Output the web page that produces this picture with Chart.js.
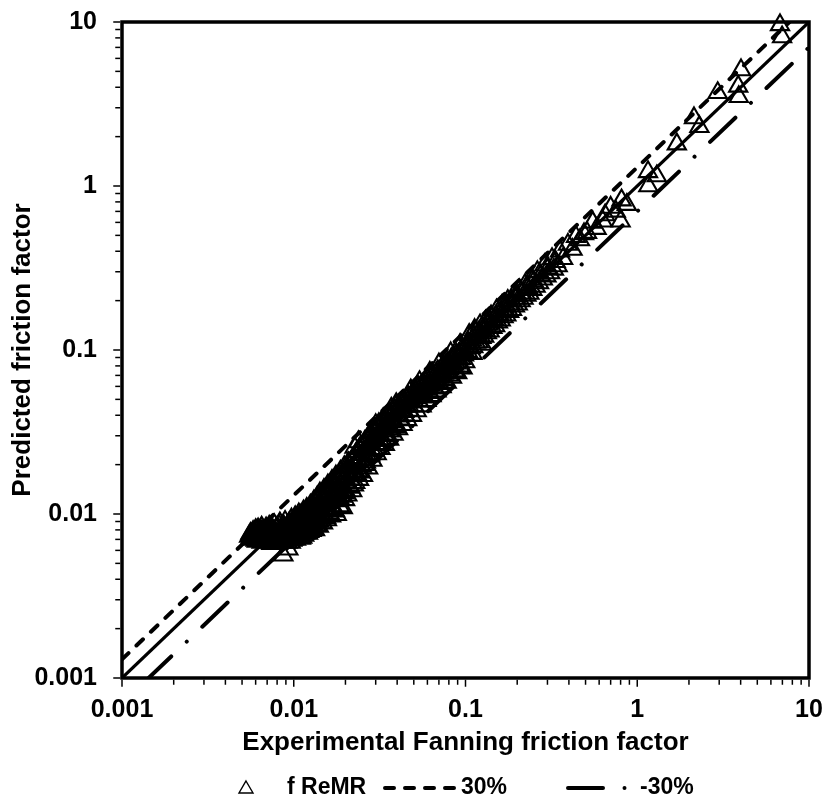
<!DOCTYPE html>
<html>
<head>
<meta charset="utf-8">
<style>
  html, body { margin: 0; padding: 0; background: #ffffff; }
  #wrap { width: 826px; height: 798px; position: relative; }
</style>
<script src="https://cdn.jsdelivr.net/npm/chart.js@4.4.1/dist/chart.umd.min.js"></script>
</head>
<body>
<div id="wrap"><canvas id="chart"></canvas></div>
<script>
// Decade tick labels shared by both logarithmic axes
const axisTicks = [0.001, 0.01, 0.1, 1, 10];

// Reference lines: parity and +/-30 % bands
const refX = [0.001, 10];
const parityY = [0.001, 10];
const plus30Y = [0.0013, 13];
const minus30Y = [0.0007, 7];

// Experimental vs predicted Fanning friction factor (f ReMR correlation)
const fReMR = [
  [0.0055,0.0073],[0.0056,0.0076],[0.0056,0.0071],[0.0057,0.0074],[0.0058,0.0078],[0.0058,0.0070],[0.0059,0.0072],
  [0.0059,0.0076],[0.0060,0.0069],[0.0060,0.0080],[0.0061,0.0073],[0.0061,0.0071],[0.0062,0.0077],
  [0.0061,0.0068],[0.0062,0.0074],[0.0062,0.0081],[0.0063,0.0070],[0.0064,0.0077],[0.0065,0.0067],[0.0065,0.0083],
  [0.0066,0.0072],[0.0067,0.0079],[0.0068,0.0069],[0.0068,0.0075],[0.0069,0.0082],[0.0070,0.0067],[0.0070,0.0073],
  [0.0071,0.0078],[0.0072,0.0084],[0.0073,0.0070],[0.0074,0.0066],[0.0074,0.0076],[0.0075,0.0081],[0.0076,0.0072],
  [0.0077,0.0086],[0.0078,0.0068],[0.0078,0.0078],[0.0079,0.0074],[0.0080,0.0083],[0.0080,0.0070],
  [0.0081,0.0066],[0.0082,0.0076],[0.0083,0.0088],[0.0084,0.0072],[0.0085,0.0080],[0.0086,0.0068],[0.0087,0.0085],
  [0.0088,0.0074],[0.0087,0.0056],[0.0089,0.0090],[0.0090,0.0070],[0.0090,0.0078],
  [0.0091,0.0083],[0.0092,0.0067],[0.0093,0.0075],[0.0094,0.0088],[0.0093,0.0061],[0.0095,0.0071],[0.0096,0.0080],
  [0.0097,0.0093],[0.0098,0.0069],[0.0099,0.0076],[0.0100,0.0085],[0.0100,0.0072],
  [0.0057,0.0075],[0.0058,0.0072],[0.0060,0.0075],[0.0061,0.0079],[0.0062,0.0069],[0.0063,0.0076],[0.0064,0.0080],
  [0.0064,0.0071],[0.0066,0.0068],[0.0066,0.0078],[0.0067,0.0074],[0.0069,0.0071],[0.0070,0.0079],[0.0071,0.0068],
  [0.0072,0.0075],[0.0073,0.0080],[0.0075,0.0068],[0.0076,0.0077],[0.0077,0.0072],[0.0079,0.0081],[0.0080,0.0067],
  [0.0081,0.0073],[0.0082,0.0085],[0.0083,0.0069],[0.0084,0.0078],[0.0086,0.0075],[0.0087,0.0071],[0.0088,0.0082],
  [0.0089,0.0067],[0.0091,0.0073],[0.0092,0.0079],[0.0094,0.0070],[0.0095,0.0084],[0.0096,0.0067],[0.0097,0.0077],
  [0.0098,0.0089],[0.0099,0.0070],[0.0100,0.0080],[0.0101,0.0075],[0.0101,0.0091],
  [0.0102,0.0096],[0.0103,0.0070],[0.0104,0.0079],[0.0105,0.0088],[0.0106,0.0074],[0.0107,0.0100],[0.0108,0.0083],
  [0.0110,0.0071],[0.0110,0.0092],[0.0112,0.0077],[0.0113,0.0087],[0.0114,0.0104],[0.0115,0.0074],[0.0116,0.0082],
  [0.0117,0.0095],[0.0118,0.0079],[0.0119,0.0108],[0.0120,0.0088],
  [0.0121,0.0076],[0.0122,0.0099],[0.0124,0.0083],[0.0125,0.0113],[0.0126,0.0092],[0.0127,0.0079],[0.0128,0.0104],
  [0.0130,0.0087],[0.0131,0.0120],[0.0132,0.0095],[0.0133,0.0080],[0.0135,0.0110],[0.0136,0.0090],[0.0137,0.0127],
  [0.0138,0.0100],[0.0140,0.0084],[0.0140,0.0116],
  [0.0103,0.0085],[0.0105,0.0072],[0.0106,0.0094],[0.0108,0.0077],[0.0109,0.0098],[0.0111,0.0082],[0.0112,0.0072],
  [0.0114,0.0090],[0.0116,0.0076],[0.0118,0.0100],[0.0119,0.0084],[0.0121,0.0093],[0.0123,0.0078],[0.0124,0.0106],
  [0.0126,0.0086],[0.0128,0.0097],[0.0129,0.0082],[0.0131,0.0109],[0.0133,0.0091],[0.0134,0.0118],[0.0136,0.0085],
  [0.0138,0.0104],[0.0139,0.0123],[0.0141,0.0090],[0.0143,0.0113],[0.0146,0.0097],[0.0149,0.0128],[0.0152,0.0108],
  [0.0154,0.0095],[0.0157,0.0136],[0.0159,0.0117],[0.0161,0.0101],[0.0163,0.0146],[0.0166,0.0125],[0.0169,0.0106],
  [0.0171,0.0155],[0.0175,0.0132],[0.0180,0.0162],[0.0184,0.0125],[0.0188,0.0150],[0.0192,0.0175],[0.0196,0.0135],
  [0.0142,0.0134],[0.0144,0.0094],[0.0145,0.0106],[0.0147,0.0122],[0.0148,0.0088],[0.0150,0.0141],[0.0151,0.0099],
  [0.0153,0.0113],[0.0155,0.0129],[0.0156,0.0092],[0.0158,0.0150],[0.0160,0.0105],[0.0162,0.0120],[0.0164,0.0137],
  [0.0165,0.0097],[0.0167,0.0160],[0.0168,0.0112],[0.0170,0.0128],
  [0.0172,0.0146],[0.0174,0.0104],[0.0176,0.0170],[0.0178,0.0099],[0.0179,0.0120],[0.0181,0.0137],[0.0183,0.0156],
  [0.0185,0.0112],[0.0187,0.0182],[0.0189,0.0128],[0.0191,0.0145],[0.0193,0.0109],[0.0195,0.0166],[0.0197,0.0194],
  [0.0199,0.0122],[0.0199,0.0140],[0.0200,0.0155],
  [0.0203,0.0178],[0.0205,0.0130],[0.0208,0.0205],[0.0211,0.0148],[0.0214,0.0163],[0.0216,0.0190],[0.0219,0.0138],
  [0.0222,0.0220],[0.0225,0.0172],[0.0226,0.0255],[0.0228,0.0155],[0.0231,0.0200],[0.0234,0.0240],[0.0237,0.0183],
  [0.0238,0.0275],[0.0240,0.0162],[0.0243,0.0215],[0.0246,0.0258],[0.0249,0.0195],[0.0253,0.0171],
  [0.0202,0.0160],[0.0206,0.0190],[0.0210,0.0170],[0.0213,0.0145],[0.0217,0.0210],[0.0221,0.0180],[0.0224,0.0150],
  [0.0229,0.0230],[0.0233,0.0175],[0.0236,0.0210],[0.0241,0.0250],[0.0245,0.0180],[0.0250,0.0230],[0.0255,0.0265],
  [0.0258,0.0200],[0.0262,0.0245],[0.0266,0.0285],[0.0270,0.0225],[0.0276,0.0265],[0.0281,0.0310],[0.0285,0.0245],
  [0.0290,0.0280],[0.0296,0.0330],[0.0302,0.0265],[0.0307,0.0300],[0.0313,0.0355],[0.0319,0.0280],[0.0326,0.0330],
  [0.0332,0.0380],[0.0340,0.0300],[0.0347,0.0350],[0.0356,0.0400],[0.0363,0.0320],[0.0372,0.0365],[0.0380,0.0420],
  [0.0390,0.0340],[0.0402,0.0430],[0.0414,0.0395],[0.0426,0.0470],[0.0440,0.0420],[0.0455,0.0500],[0.0470,0.0455],
  [0.0485,0.0530],[0.0500,0.0490],
  [0.0256,0.0232],[0.0259,0.0276],[0.0263,0.0207],[0.0267,0.0250],[0.0271,0.0190],[0.0275,0.0296],[0.0279,0.0228],
  [0.0283,0.0268],[0.0287,0.0212],[0.0291,0.0318],[0.0295,0.0245],[0.0299,0.0287],[0.0300,0.0350],[0.0304,0.0232],
  [0.0308,0.0340],[0.0312,0.0268],[0.0317,0.0305],[0.0320,0.0250],
  [0.0325,0.0362],[0.0329,0.0285],[0.0334,0.0328],[0.0339,0.0265],[0.0344,0.0385],[0.0349,0.0305],[0.0354,0.0350],
  [0.0359,0.0285],[0.0364,0.0410],[0.0369,0.0330],[0.0370,0.0440],[0.0375,0.0375],[0.0381,0.0305],[0.0387,0.0435],
  [0.0393,0.0352],[0.0395,0.0470],[0.0399,0.0400],[0.0405,0.0330],[0.0411,0.0460],[0.0417,0.0378],
  [0.0423,0.0425],[0.0430,0.0350],[0.0437,0.0488],[0.0444,0.0400],[0.0451,0.0452],[0.0458,0.0375],[0.0465,0.0518],
  [0.0472,0.0428],[0.0480,0.0480],[0.0480,0.0570],[0.0488,0.0398],[0.0496,0.0550],[0.0504,0.0455],[0.0512,0.0510],
  [0.0520,0.0425],[0.0528,0.0585],[0.0537,0.0485],[0.0540,0.0640],[0.0546,0.0540],[0.0555,0.0455],
  [0.0564,0.0620],[0.0573,0.0515],[0.0583,0.0575],[0.0593,0.0490],[0.0603,0.0660],[0.0613,0.0550],[0.0620,0.0730],
  [0.0623,0.0610],[0.0634,0.0525],[0.0645,0.0702],[0.0656,0.0585],[0.0667,0.0650],[0.0678,0.0560],[0.0690,0.0745],
  [0.0700,0.0820],[0.0702,0.0622],[0.0714,0.0690],[0.0726,0.0595],[0.0738,0.0790],[0.0750,0.0660],
  [0.0763,0.0735],[0.0777,0.0635],[0.0791,0.0840],[0.0805,0.0700],[0.0819,0.0780],[0.0820,0.0960],[0.0834,0.0680],
  [0.0849,0.0890],[0.0864,0.0745],[0.0879,0.0830],[0.0895,0.0725],[0.0911,0.0945],[0.0927,0.0795],[0.0930,0.1080],
  [0.0944,0.0885],[0.0961,0.0775],[0.0978,0.1005],[0.0996,0.0845],
  [0.0516,0.0560],[0.0532,0.0520],[0.0550,0.0600],[0.0568,0.0560],[0.0588,0.0640],[0.0608,0.0600],[0.0630,0.0680],
  [0.0652,0.0630],[0.0675,0.0720],[0.0698,0.0680],[0.0722,0.0770],[0.0746,0.0720],[0.0772,0.0820],[0.0798,0.0770],
  [0.0826,0.0880],[0.0855,0.0820],[0.0885,0.0940],[0.0915,0.0880],[0.0947,0.1000],[0.0980,0.0930],[0.1040,0.1100],
  [0.1120,0.1200],[0.1200,0.1290],[0.1290,0.1380],[0.1390,0.1490],[0.1500,0.1600],[0.1610,0.1720],[0.1730,0.1850],
  [0.1860,0.1990],[0.2000,0.2140],
  [0.1014,0.1080],[0.1032,0.0975],[0.1051,0.1240],[0.1070,0.1030],[0.1090,0.1150],[0.1100,0.0950],[0.1110,0.1045],
  [0.1130,0.1330],[0.1151,0.1110],[0.1172,0.1235],[0.1193,0.1120],[0.1215,0.1420],[0.1238,0.1190],[0.1250,0.1080],
  [0.1261,0.1330],[0.1284,0.1210],[0.1308,0.1500],[0.1332,0.1270],
  [0.1357,0.1440],[0.1382,0.1300],[0.1408,0.1610],[0.1434,0.1370],[0.1461,0.1540],[0.1488,0.1400],[0.1516,0.1750],
  [0.1545,0.1480],[0.1574,0.1650],[0.1604,0.1520],[0.1634,0.1870],[0.1665,0.1590],[0.1697,0.1770],[0.1729,0.1630],
  [0.1762,0.2000],[0.1796,0.1710],
  [0.1831,0.1900],[0.1866,0.1760],[0.1902,0.2150],[0.1939,0.1850],[0.1977,0.2060],[0.2015,0.1900],[0.2054,0.2330],
  [0.2094,0.1990],[0.2135,0.2220],[0.2177,0.2060],[0.2220,0.2500],[0.2264,0.2150],[0.2309,0.2400],[0.2355,0.2210],
  [0.2402,0.2700],[0.2450,0.2330],
  [0.2500,0.2620],[0.2560,0.2440],[0.2620,0.3000],[0.2680,0.2560],[0.2750,0.2860],[0.2820,0.2700],[0.2890,0.3300],
  [0.2960,0.2820],[0.3030,0.3150],[0.3110,0.2950],[0.3190,0.3600],[0.3270,0.3100],[0.3350,0.3450],[0.3440,0.3250],
  [0.3550,0.4000],[0.3700,0.3600],[0.3950,0.4400],[0.4200,0.4100],[0.4400,0.4900],[0.4640,0.4690],[0.4900,0.5100],
  [0.5100,0.5200],[0.5500,0.6000],[0.5800,0.5500],[0.6300,0.6100],[0.6500,0.6650],[0.7000,0.7400],[0.7500,0.7000],
  [0.8000,0.6100],[0.8100,0.8200],[0.8700,0.7700],
  [1.155,1.22],[1.30,1.15],[1.16,1.00],[1.70,1.80],[2.14,2.60],[2.30,2.30],[2.94,3.70],[3.90,3.50],[3.87,4.05],
  [4.02,5.10],[6.78,9.60],[6.97,8.10]
];

const seriesNames = ['f ReMR', '30%', '-30%'];
const xTitle = 'Experimental Fanning friction factor';
const yTitle = 'Predicted friction factor';

const FONT = '"Liberation Sans", Arial, Helvetica, sans-serif';
const INK = '#000000';

function pairs(xs, ys) { return xs.map((v, i) => ({ x: v, y: ys[i] })); }

// Plot frame plus major/minor logarithmic tick marks
const framePlugin = {
  id: 'frameAndTicks',
  afterDatasetsDraw(chart) {
    const { ctx, chartArea: a, scales: { x, y } } = chart;
    ctx.save();
    ctx.strokeStyle = INK;
    ctx.lineWidth = 1.5;
    const marks = [];
    for (let i = 0; i < axisTicks.length - 1; i++) {
      for (let k = 1; k <= 9; k++) marks.push({ v: k * axisTicks[i], major: k === 1 });
    }
    marks.push({ v: axisTicks[axisTicks.length - 1], major: true });
    const edge = 1.75;
    marks.forEach(m => {
      const len = m.major ? 7 : 5;
      const px = x.getPixelForValue(m.v);
      ctx.beginPath();
      ctx.moveTo(px, a.bottom + edge);
      ctx.lineTo(px, a.bottom + edge + len);
      ctx.stroke();
      const py = y.getPixelForValue(m.v);
      ctx.beginPath();
      ctx.moveTo(a.left - edge, py);
      ctx.lineTo(a.left - edge - len, py);
      ctx.stroke();
    });
    ctx.lineWidth = 3.5;
    ctx.strokeRect(a.left, a.top, a.right - a.left, a.bottom - a.top);
    ctx.restore();
  }
};

// Legend row under the x-axis title
const legendPlugin = {
  id: 'bottomLegend',
  afterDraw(chart) {
    const { ctx } = chart;
    const ds = chart.data.datasets;
    const cy = 788;
    ctx.save();
    ctx.fillStyle = INK;
    ctx.strokeStyle = INK;
    ctx.font = 'bold 23px ' + FONT;
    ctx.textBaseline = 'middle';
    ctx.textAlign = 'left';

    // triangle marker
    const tri = ds.find(d => d.label === seriesNames[0]);
    ctx.lineWidth = 1.4;
    ctx.beginPath();
    ctx.moveTo(246, cy - 7);
    ctx.lineTo(253, cy + 5);
    ctx.lineTo(239, cy + 5);
    ctx.closePath();
    ctx.stroke();
    ctx.fillText(tri.label, 287, cy);

    // dashed +30 %
    const up = ds.find(d => d.label === seriesNames[1]);
    ctx.lineWidth = up.borderWidth;
    ctx.lineCap = up.borderCapStyle;
    ctx.setLineDash(up.borderDash);
    ctx.beginPath();
    ctx.moveTo(385, cy);
    ctx.lineTo(458, cy);
    ctx.stroke();
    ctx.setLineDash([]);
    ctx.fillText(up.label, 461, cy);

    // dash-dot -30 %
    const lo = ds.find(d => d.label === seriesNames[2]);
    ctx.lineWidth = lo.borderWidth;
    ctx.lineCap = lo.borderCapStyle;
    ctx.setLineDash(lo.borderDash);
    ctx.beginPath();
    ctx.moveTo(568, cy);
    ctx.lineTo(628, cy);
    ctx.stroke();
    ctx.setLineDash([]);
    ctx.fillText(lo.label, 640, cy);
    ctx.restore();
  }
};

const tickFont = { family: FONT, size: 25, weight: 'bold' };
const titleFont = { family: FONT, size: 26, weight: 'bold' };

new Chart(document.getElementById('chart'), {
  type: 'scatter',
  data: {
    datasets: [
      {
        label: 'parity',
        data: pairs(refX, parityY),
        showLine: true,
        borderColor: INK,
        borderWidth: 3.2,
        pointRadius: 0,
        fill: false
      },
      {
        label: seriesNames[1],
        data: pairs(refX, plus30Y),
        showLine: true,
        borderColor: INK,
        borderWidth: 4,
        borderDash: [9, 11],
        borderCapStyle: 'round',
        pointRadius: 0,
        fill: false
      },
      {
        label: seriesNames[2],
        data: pairs(refX, minus30Y),
        showLine: true,
        borderColor: INK,
        borderWidth: 4,
        borderDash: [35, 21.5, 0.01, 21.5],
        borderDashOffset: 45,
        borderCapStyle: 'round',
        pointRadius: 0,
        fill: false
      },
      {
        label: seriesNames[0],
        data: fReMR.map(p => ({ x: p[0], y: p[1] })),
        pointStyle: 'triangle',
        pointRadius: 10.5,
        pointHoverRadius: 10.5,
        pointBorderWidth: 2.1,
        pointBorderColor: INK,
        pointBackgroundColor: 'rgba(0,0,0,0)',
        clip: false
      }
    ]
  },
  options: {
    responsive: true,
    maintainAspectRatio: false,
    animation: false,
    events: [],
    layout: { padding: { top: 22, right: 17, left: 0, bottom: 0 } },
    plugins: { legend: { display: false }, tooltip: { enabled: false } },
    scales: {
      x: {
        type: 'logarithmic',
        position: 'bottom',
        min: 0.001,
        max: 10,
        afterBuildTicks: s => { s.ticks = axisTicks.map(v => ({ value: v })); },
        afterFit: s => { s.height = 120; s.paddingLeft = 0; s.paddingRight = 0; },
        grid: { display: false, drawTicks: false },
        border: { display: false },
        ticks: {
          autoSkip: false, maxRotation: 0, minRotation: 0, padding: 17,
          color: INK, font: tickFont,
          callback: v => String(v)
        },
        title: { display: true, text: xTitle, color: INK, font: titleFont, padding: { top: 0, bottom: 40 } }
      },
      y: {
        type: 'logarithmic',
        position: 'left',
        min: 0.001,
        max: 10,
        afterBuildTicks: s => { s.ticks = axisTicks.map(v => ({ value: v })); },
        afterFit: s => { s.width = 122; s.paddingTop = 0; s.paddingBottom = 0; },
        grid: { display: false, drawTicks: false },
        border: { display: false },
        ticks: {
          autoSkip: false, padding: 25,
          color: INK, font: tickFont,
          callback: v => String(v)
        },
        title: { display: true, text: yTitle, color: INK, font: titleFont, padding: { top: 7, bottom: 0 } }
      }
    }
  },
  plugins: [framePlugin, legendPlugin]
});
</script>
</body>
</html>
